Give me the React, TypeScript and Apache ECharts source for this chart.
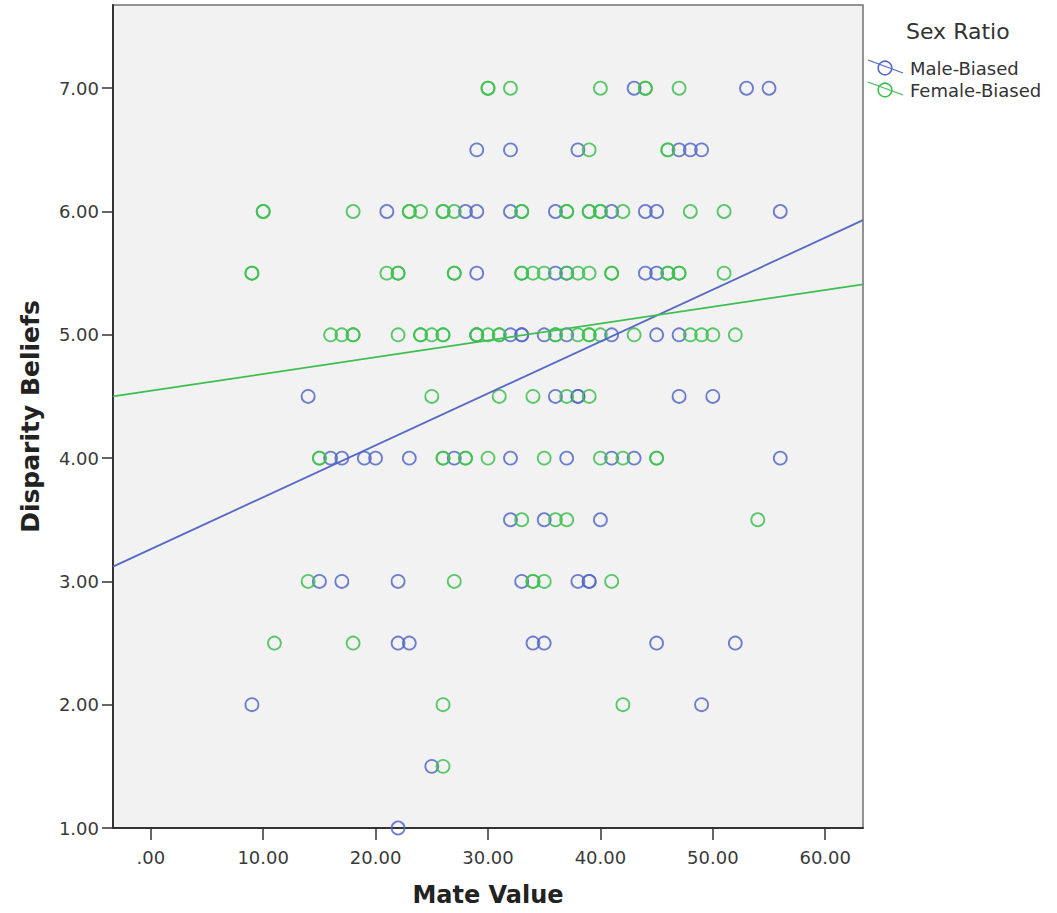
import React, { useEffect, useRef } from "react";
import * as echarts from "echarts";

// ---- Data ----
const seriesNames = ["Male-Biased", "Female-Biased"];

// Male-Biased points: [Mate Value, Disparity Beliefs]
const maleX = [
  43, 53, 55,
  29, 32, 38, 47, 48, 49,
  21, 28, 29, 32, 36, 41, 44, 45, 56,
  29, 36, 37, 44, 45,
  29, 32, 33, 33, 35, 37, 41, 45, 47,
  14, 36, 38, 38, 47, 50,
  16, 17, 19, 20, 23, 27, 32, 37, 41, 43, 56,
  32, 35, 40,
  15, 17, 22, 33, 38, 39, 39,
  22, 23, 34, 35, 45, 52,
  9, 49,
  25,
  22,
];
const maleY = [
  7, 7, 7,
  6.5, 6.5, 6.5, 6.5, 6.5, 6.5,
  6, 6, 6, 6, 6, 6, 6, 6, 6,
  5.5, 5.5, 5.5, 5.5, 5.5,
  5, 5, 5, 5, 5, 5, 5, 5, 5,
  4.5, 4.5, 4.5, 4.5, 4.5, 4.5,
  4, 4, 4, 4, 4, 4, 4, 4, 4, 4, 4,
  3.5, 3.5, 3.5,
  3, 3, 3, 3, 3, 3, 3,
  2.5, 2.5, 2.5, 2.5, 2.5, 2.5,
  2, 2,
  1.5,
  1,
];

// Female-Biased points
const femaleX = [
  30, 30, 32, 40, 44, 44, 47,
  39, 46, 46,
  10, 10, 18, 23, 23, 24, 26, 26, 27, 33, 33, 37, 37, 39, 39, 40, 40, 42, 48, 51,
  9, 9, 21, 22, 22, 27, 27, 33, 33, 34, 35, 37, 38, 39, 41, 41, 46, 46, 47, 47, 51,
  16, 17, 18, 18, 22, 24, 24, 25, 26, 26, 29, 29, 30, 31, 31, 36, 36, 38, 39, 39, 40, 43, 48, 49, 50, 52,
  25, 31, 34, 37, 39,
  15, 15, 26, 26, 28, 28, 30, 35, 40, 42, 45, 45,
  33, 36, 37, 54,
  14, 27, 34, 34, 35, 41,
  11, 18,
  26, 42,
  26,
];
const femaleY = [
  7, 7, 7, 7, 7, 7, 7,
  6.5, 6.5, 6.5,
  6, 6, 6, 6, 6, 6, 6, 6, 6, 6, 6, 6, 6, 6, 6, 6, 6, 6, 6, 6,
  5.5, 5.5, 5.5, 5.5, 5.5, 5.5, 5.5, 5.5, 5.5, 5.5, 5.5, 5.5, 5.5, 5.5, 5.5, 5.5, 5.5, 5.5, 5.5, 5.5, 5.5,
  5, 5, 5, 5, 5, 5, 5, 5, 5, 5, 5, 5, 5, 5, 5, 5, 5, 5, 5, 5, 5, 5, 5, 5, 5, 5,
  4.5, 4.5, 4.5, 4.5, 4.5,
  4, 4, 4, 4, 4, 4, 4, 4, 4, 4, 4, 4,
  3.5, 3.5, 3.5, 3.5,
  3, 3, 3, 3, 3, 3,
  2.5, 2.5,
  2, 2,
  1.5,
];

// Fit lines (endpoints at the axis extent)
const maleFitX = [-3.36, 63.36];
const maleFitY = [3.12, 5.93];
const femaleFitX = [-3.36, 63.36];
const femaleFitY = [4.5, 5.41];

// Axes
const xMin = -3.36;
const xMax = 63.36;
const xTickValues = [0, 10, 20, 30, 40, 50, 60];
const xTickLabels = [".00", "10.00", "20.00", "30.00", "40.00", "50.00", "60.00"];
const yMin = 1;
const yMax = 7.675;
const yTickValues = [1, 2, 3, 4, 5, 6, 7];
const yTickLabels = ["1.00", "2.00", "3.00", "4.00", "5.00", "6.00", "7.00"];

const xTitle = "Mate Value";
const yTitle = "Disparity Beliefs";
const legendTitle = "Sex Ratio";

const BLUE = "#5469c6";
const GREEN = "#3dbf50";
const FONT = "DejaVu Sans";

const zip = (xs: number[], ys: number[]) => xs.map((x, i) => [x, ys[i]]);

export default function App() {
  const ref = useRef<HTMLDivElement>(null);
  useEffect(() => {
    if (!ref.current) return;
    const chart = echarts.init(ref.current, undefined, { renderer: "svg" });
    const pointStyle = (c: string) => ({
      color: "rgba(0,0,0,0)",
      borderColor: c,
      borderWidth: 1.8,
      opacity: 0.85,
    });
    const legendIcon = (c: string, cy: number, label: string) => [
      {
        type: "line",
        shape: { x1: 868, y1: cy - 8, x2: 903, y2: cy + 5 },
        style: { stroke: c, lineWidth: 1.3 },
      },
      {
        type: "circle",
        shape: { cx: 885, cy: cy, r: 6.8 },
        style: { fill: "none", stroke: c, lineWidth: 1.6 },
      },
      {
        type: "text",
        x: 910,
        y: cy,
        style: {
          text: label,
          font: `18px "${FONT}"`,
          fill: "#333",
          verticalAlign: "middle",
          align: "left",
        },
      },
    ];
    chart.setOption({
      animation: false,
      backgroundColor: "#ffffff",
      grid: {
        left: 113,
        right: 194,
        top: 5,
        bottom: 85,
        show: true,
        backgroundColor: "#f2f2f2",
        borderColor: "#707070",
        borderWidth: 1.5,
      },
      xAxis: {
        type: "value",
        min: xMin,
        max: xMax,
        name: xTitle,
        nameLocation: "middle",
        nameGap: 55,
        nameTextStyle: { fontFamily: FONT, fontSize: 24, fontWeight: "bold", color: "#222" },
        axisLine: { show: true, onZero: false, lineStyle: { color: "#333", width: 2 } },
        axisTick: {
          show: true,
          length: 12,
          lineStyle: { color: "#333", width: 1.5 },
          customValues: xTickValues,
        },
        axisLabel: {
          margin: 20,
          fontFamily: FONT,
          fontSize: 18,
          color: "#3a3a3a",
          customValues: xTickValues,
          formatter: (v: number) => xTickLabels[xTickValues.indexOf(Math.round(v))] ?? "",
        },
        splitLine: { show: false },
      },
      yAxis: {
        type: "value",
        min: yMin,
        max: yMax,
        name: yTitle,
        nameLocation: "middle",
        nameGap: 70,
        nameTextStyle: { fontFamily: FONT, fontSize: 25, fontWeight: "bold", color: "#222" },
        axisLine: { show: true, onZero: false, lineStyle: { color: "#333", width: 2 } },
        axisTick: {
          show: true,
          length: 11,
          lineStyle: { color: "#333", width: 1.5 },
          customValues: yTickValues,
        },
        axisLabel: {
          margin: 14,
          fontFamily: FONT,
          fontSize: 18,
          color: "#3a3a3a",
          customValues: yTickValues,
          formatter: (v: number) => yTickLabels[yTickValues.indexOf(Math.round(v))] ?? "",
        },
        splitLine: { show: false },
      },
      series: [
        {
          name: seriesNames[0],
          type: "scatter",
          symbol: "circle",
          symbolSize: 13,
          clip: true,
          data: zip(maleX, maleY),
          itemStyle: pointStyle(BLUE),
        },
        {
          name: seriesNames[1],
          type: "scatter",
          symbol: "circle",
          symbolSize: 13,
          clip: true,
          data: zip(femaleX, femaleY),
          itemStyle: pointStyle(GREEN),
        },
        {
          name: seriesNames[0] + " fit",
          type: "line",
          showSymbol: false,
          symbol: "none",
          clip: true,
          data: zip(maleFitX, maleFitY),
          lineStyle: { color: BLUE, width: 1.8 },
          z: 3,
        },
        {
          name: seriesNames[1] + " fit",
          type: "line",
          showSymbol: false,
          symbol: "none",
          clip: true,
          data: zip(femaleFitX, femaleFitY),
          lineStyle: { color: GREEN, width: 1.8 },
          z: 3,
        },
      ],
      graphic: [
        {
          type: "text",
          x: 906,
          y: 31,
          style: {
            text: legendTitle,
            font: `22px "${FONT}"`,
            fill: "#333",
            verticalAlign: "middle",
            align: "left",
          },
        },
        ...legendIcon(BLUE, 68, seriesNames[0]),
        ...legendIcon(GREEN, 90, seriesNames[1]),
      ],
    });
    return () => chart.dispose();
  }, []);
  return (
    <div
      ref={ref}
      style={{ position: "absolute", left: 0, top: 0, width: 1057, height: 913 }}
    />
  );
}
